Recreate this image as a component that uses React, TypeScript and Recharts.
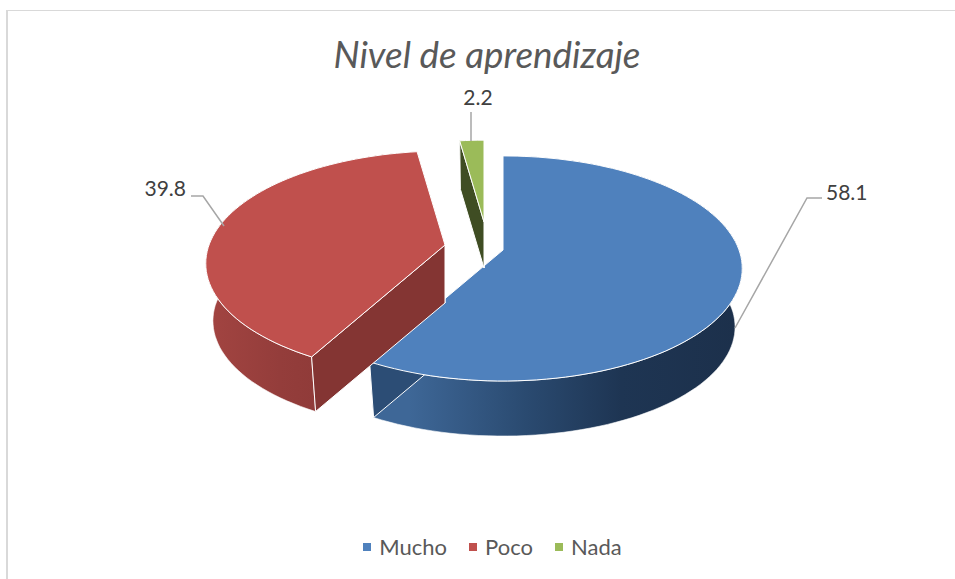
import React from "react";
import { PieChart, Pie, Cell, Legend } from "recharts";

const categories = ["Mucho", "Poco", "Nada"];
const values = [58.1, 39.8, 2.2];
const labels = ["58.1", "39.8", "2.2"];
const colors = ["#4f81bd", "#c0504d", "#9bbb59"];

const tableData = categories.map((name, i) => ({ name, value: values[i], text: labels[i] }));

const PIE_CX = 503;
const PIE_CY = 250;
const RADIUS = 236;
const FLATTEN = 0.464;
const PERSPECTIVE = 0.164;
const BOTTOM_SCALE = 0.97;

// how each slice is pulled out of the pie and how it is lit
const sliceLook: Record<string, any> = {
  Mucho: { dx: 0, dy: 0, scale: 1, depth: 59, cut: "#2c4d75", wall: ["#3e6797", "#2a4a70", "#1e3553", "#1c304b"] },
  Poco: { dx: -58, dy: -5, scale: 1, depth: 58, cut: "#843533", wall: ["#a24441", "#943d3b", "#8c3937", "#8c3937"] },
  Nada: { dx: -19, dy: -28, scale: 0.87, depth: 46, cut: "#3f4d23", wall: ["#3f4d23", "#3f4d23", "#3f4d23", "#3f4d23"] },
};

// label text position and leader elbow, relative to the pie centre
const labelSpots: Record<string, any> = {
  Mucho: { x: 323, y: -50, anchor: "start", line: [[232, 78], [304, -52], [319, -52]] },
  Poco: { x: -317, y: -54, anchor: "end", line: [[-279, -24], [-300, -54], [-312, -54]] },
  Nada: { x: -25, y: -145, anchor: "middle", line: [[-32, -109], [-32, -138]] },
};

const arcPoint = (deg: number, ox: number, oy: number, scale: number) => {
  const a = (deg * Math.PI) / 180;
  const u = Math.sin(a);
  const v = Math.cos(a);
  const den = 1 + PERSPECTIVE * v;
  return [ox + (scale * RADIUS * u) / den, oy - (scale * RADIUS * FLATTEN * v) / den];
};

const toPath = (pts: number[][]) =>
  "M" + pts.map((p) => p[0].toFixed(1) + "," + p[1].toFixed(1)).join("L") + "Z";

const Slice3D = (props: any) => {
  const { cx, cy, startAngle, endAngle, fill, payload, name } = props;
  const key = name ?? payload?.name;
  const look = sliceLook[key];
  const ox = cx + look.dx;
  const oy = cy + look.dy;
  const a1 = 90 - startAngle;
  const a2 = 90 - endAngle;

  const topArc: number[][] = [];
  const lowArc: number[][] = [];
  const steps = Math.max(2, Math.ceil((a2 - a1) / 2));
  for (let i = 0; i <= steps; i++) {
    const d = a1 + ((a2 - a1) * i) / steps;
    topArc.push(arcPoint(d, ox, oy, look.scale));
    lowArc.push(arcPoint(d, ox, oy + look.depth, look.scale * BOTTOM_SCALE));
  }
  const apex = [ox, oy];
  const apexLow = [ox, oy + look.depth];
  const gradId = "wall-" + key;

  // the cut face nearer the viewer goes on top of the one behind it
  const faces = [
    toPath([apex, topArc[0], lowArc[0], apexLow]),
    toPath([apex, topArc[steps], lowArc[steps], apexLow]),
  ];
  if (topArc[0][1] > topArc[steps][1]) faces.reverse();

  return (
    <g>
      <defs>
        <linearGradient id={gradId} gradientUnits="userSpaceOnUse" x1={ox - RADIUS} x2={ox + RADIUS} y1="0" y2="0">
          <stop offset={key === "Mucho" ? "0.3" : "0"} stopColor={look.wall[0]} />
          <stop offset={key === "Mucho" ? "0.55" : "0.15"} stopColor={look.wall[1]} />
          <stop offset={key === "Mucho" ? "0.75" : "0.3"} stopColor={look.wall[2]} />
          <stop offset="1" stopColor={look.wall[3]} />
        </linearGradient>
      </defs>
      <path d={toPath([...topArc, ...[...lowArc].reverse()])} fill={`url(#${gradId})`} stroke="#fff" strokeWidth={0.6} />
      <path d={faces[0]} fill={look.cut} stroke="#fff" strokeWidth={1} />
      <path d={faces[1]} fill={look.cut} stroke="#fff" strokeWidth={1} />
      <path d={toPath([apex, ...topArc])} fill={fill} stroke="#fff" strokeWidth={1} />
    </g>
  );
};

const renderLabel = (props: any) => {
  const { cx, cy, name, payload } = props;
  const key = name ?? payload?.name;
  const spot = labelSpots[key];
  const pts = spot.line.map((p: number[]) => `${cx + p[0]},${cy + p[1]}`).join(" ");
  return (
    <g key={key}>
      <polyline points={pts} fill="none" stroke="#a6a6a6" strokeWidth={1.5} />
      <text x={cx + spot.x} y={cy + spot.y} textAnchor={spot.anchor} fontFamily="Lato" fontSize={21} fill="#404040">
        {payload?.text ?? props.value}
      </text>
    </g>
  );
};

const renderLegend = (props: any) => (
  <div style={{ display: "flex", justifyContent: "center", fontFamily: "Lato", fontSize: 22, color: "#595959" }}>
    {props.payload.map((item: any) => (
      <span key={item.value} style={{ display: "inline-flex", alignItems: "center", margin: "0 11px" }}>
        <span style={{ width: 8, height: 8, background: item.color, marginRight: 8, display: "inline-block" }} />
        {item.value}
      </span>
    ))}
  </div>
);

export default function App() {
  return (
    <div style={{ position: "absolute", left: 0, top: 0, width: 955, height: 579, overflow: "hidden", background: "#fff" }}>
      <div style={{ position: "absolute", left: 6, top: 10, width: 949, height: 569, borderLeft: "2px solid #d9d9d9", borderTop: "1px solid #d9d9d9" }} />
      <PieChart width={955} height={579} margin={{ top: 0, right: 0, bottom: 0, left: 0 }} style={{ position: "absolute", left: 0, top: 0 }}>
        <text x={487} y={68} textAnchor="middle" fontFamily="Lato" fontStyle="italic" fontSize={36.8} fill="#595959">
          Nivel de aprendizaje
        </text>
        <Pie
          data={tableData}
          dataKey="value"
          nameKey="name"
          cx={PIE_CX}
          cy={PIE_CY}
          innerRadius={0}
          outerRadius={RADIUS}
          startAngle={90}
          endAngle={-270}
          stroke="none"
          shape={Slice3D}
          label={renderLabel}
          labelLine={false}
          isAnimationActive={false}
        >
          {categories.map((name, i) => (
            <Cell key={name} fill={colors[i]} />
          ))}
        </Pie>
        <Legend content={renderLegend} itemSorter={null} wrapperStyle={{ left: 0, width: 985, bottom: 19 }} />
      </PieChart>
    </div>
  );
}
